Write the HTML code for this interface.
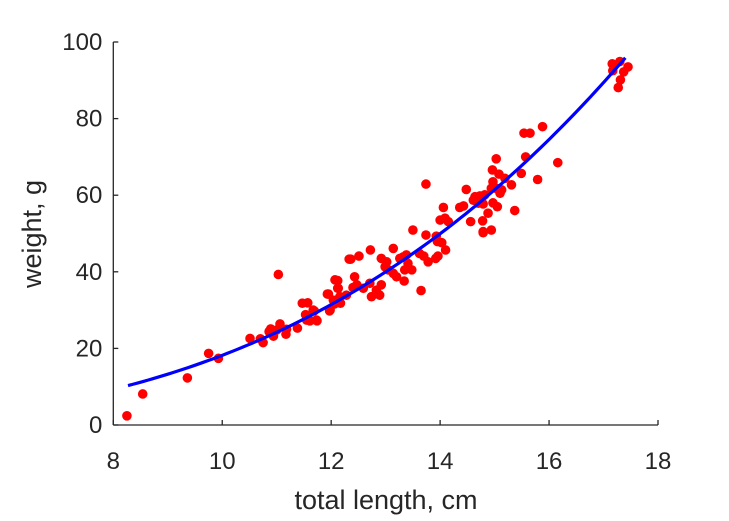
<!DOCTYPE html>
<html><head><meta charset="utf-8"><style>
body{margin:0;background:#fff}
svg{display:block;font-family:"Liberation Sans",Arial,sans-serif}
</style></head><body>
<svg id="chart" width="729" height="521" viewBox="0 0 729 521"></svg>
<script>
const xTicks=[8,10,12,14,16,18];
const yTicks=[0,20,40,60,80,100];
const lengths=[8.25,8.54,9.36,9.75,9.93,10.51,10.70,10.75,10.86,10.89,10.94,11.03,11.06,11.0,11.18,11.17,11.38,11.47,11.57,11.53,11.69,11.61,11.74,11.93,11.97,12.12,12.12,12.16,12.06,12.17,12.28,12.33,
13.74,14.48,14.67,14.76,14.61,14.06,14.36,14.43,14.0,14.09,14.15,14.56,14.78,14.88,14.79,14.94,13.5,13.74,13.93,13.95,14.03,14.10,13.92,13.96,13.78,13.70,13.62,12.72,13.14,12.36,12.51,
12.92,13.02,12.99,13.05,13.14,13.26,13.32,13.38,13.41,13.35,13.48,13.2,13.34,13.65,12.07,12.13,11.95,12.43,12.47,12.40,12.59,12.71,12.74,12.83,12.92,12.89,12.04,11.98,11.67,11.73,11.55,
17.16,17.30,17.17,17.37,17.45,17.31,17.27,15.54,15.65,15.88,15.57,15.03,16.16,14.96,15.08,15.19,15.49,15.31,15.79,14.97,15.03,14.94,15.13,15.1,14.64,14.73,14.82,14.70,14.79,14.97,15.05,15.37,14.79];
const weights=[2.4,8.1,12.3,18.7,17.4,22.6,22.5,21.5,24.4,25.1,23.2,39.3,26.4,24.8,25.0,23.7,25.3,31.8,31.9,28.8,29.8,27.2,27.2,34.2,29.8,37.7,35.7,33.5,31.6,31.8,33.9,43.3,
62.9,61.5,59.5,58.9,58.7,56.8,56.8,57.2,53.5,54.0,53.1,53.1,53.3,55.3,50.5,50.9,50.9,49.6,49.3,47.9,47.6,45.7,43.5,44.1,42.6,44.1,44.8,45.7,46.1,43.3,44.1,
43.5,42.6,41.3,40.5,39.6,43.5,43.9,44.4,42.2,40.5,40.5,38.7,37.6,35.1,37.9,35.7,34.2,38.7,36.6,35.9,35.7,37.0,33.5,35.2,36.6,33.9,32.6,30.0,30.0,27.4,27.4,
94.3,94.9,92.5,92.2,93.5,90.1,88.1,76.2,76.2,77.9,70.0,69.5,68.5,66.6,65.5,64.4,65.7,62.7,64.1,63.5,61.8,61.8,61.4,60.5,59.6,59.8,60.1,57.9,57.7,58.0,57.0,56.0,50.2];
const fitA=[0.0182];
const fitB=[3.0];
const fitRange=[8.27,17.4];

const NS="http://www.w3.org/2000/svg";
const svg=document.getElementById('chart');
const X0=113.3,X1=658,Y0=425,Y1=42;
const sx=v=>X0+(v-8)/(18-8)*(X1-X0);
const sy=v=>Y0-(v-0)/(100-0)*(Y0-Y1);
function mk(tag,attrs,parent){const e=document.createElementNS(NS,tag);for(const k in attrs)e.setAttribute(k,attrs[k]);(parent||svg).appendChild(e);return e;}

const axes=mk('g',{});


const xl=mk('line',{x1:X0,y1:Y0,x2:X1,y2:Y0,stroke:'#262626','stroke-width':1.3},axes);


const yl=mk('line',{x1:X0,y1:Y0,x2:X0,y2:Y1,stroke:'#262626','stroke-width':1.3},axes);


xTicks.forEach(t=>{
  const tk=mk('line',{x1:sx(t),y1:Y0,x2:sx(t),y2:Y0-5,stroke:'#262626','stroke-width':1.3},axes);
  
  
  const tl=mk('text',{x:sx(t),y:Y0+44,'text-anchor':'middle','font-size':24,fill:'#262626'},axes);
  
  
  tl.textContent=t;
});
yTicks.forEach(t=>{
  const tk=mk('line',{x1:X0,y1:sy(t),x2:X0+5,y2:sy(t),stroke:'#262626','stroke-width':1.3},axes);
  
  
  const tl=mk('text',{x:X0-11,y:sy(t)+8,'text-anchor':'end','font-size':24,fill:'#262626'},axes);
  
  
  tl.textContent=t;
});
const xt=mk('text',{x:386,y:509,'text-anchor':'middle','font-size':27,fill:'#262626'});


xt.textContent='total length, cm';
const yt=mk('text',{x:0,y:0,'text-anchor':'middle','font-size':27,fill:'#262626',transform:'translate(41,234) rotate(-90)'});


yt.textContent='weight, g';

const pts=mk('g',{});


lengths.forEach((L,i)=>{
  const c=mk('circle',{cx:sx(L),cy:sy(weights[i]),r:4.8,fill:'#ff0000'},pts);
  
  
});
let d='';
for(let i=0;i<=100;i++){
  const L=fitRange[0]+(fitRange[1]-fitRange[0])*i/100;
  const W=fitA[0]*Math.pow(L,fitB[0]);
  d+=(i?'L':'M')+sx(L).toFixed(2)+','+sy(W).toFixed(2);
}
const fl=mk('path',{d:d,fill:'none',stroke:'#0000ff','stroke-width':3.2});


</script>
</body></html>
